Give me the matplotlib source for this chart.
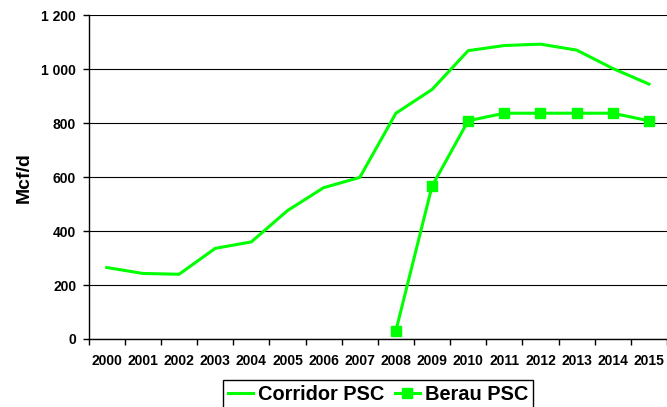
import matplotlib
matplotlib.use("Agg")
import matplotlib.pyplot as plt
import numpy as np
from matplotlib.ticker import FixedLocator, FuncFormatter

years = ["2000", "2001", "2002", "2003", "2004", "2005", "2006", "2007",
         "2008", "2009", "2010", "2011", "2012", "2013", "2014", "2015"]
corridor = [265, 243, 240, 336, 360, 476, 561, 599, 837, 925, 1069, 1088, 1093, 1071, 1003, 945]
berau_years = ["2008", "2009", "2010", "2011", "2012", "2013", "2014", "2015"]
berau = [31, 567, 809, 837, 837, 837, 837, 809]
yticks = [0, 200, 400, 600, 800, 1000, 1200]

plt.rcParams['font.family'] = ['Liberation Sans', 'DejaVu Sans']
plt.rcParams['font.weight'] = 'bold'

fig = plt.figure(figsize=(6.67, 4.07), dpi=100)
ax = fig.add_axes([88.7/667, 1-339/407, 1-88.7/667, (339-15.3)/407])

x = np.arange(len(years))
bx = [years.index(y) for y in berau_years]
green = '#00FF00'
ax.plot(x, corridor, color=green, lw=2.2, label='Corridor PSC')
ax.plot(bx, berau, color=green, lw=2.2, marker='s', markersize=7, label='Berau PSC')

ax.set_xlim(-0.5, len(years)-0.5)
ax.set_ylim(0, 1200)
ax.set_xticks(x)
ax.set_xticklabels(years, fontsize=10, fontweight='bold')
ax.tick_params(axis='x', which='major', length=0, pad=11)
ax.xaxis.set_minor_locator(FixedLocator(np.arange(-0.5, len(years), 1)))
ax.tick_params(axis='x', which='minor', length=4, width=1, color='black', direction='out')
ax.set_yticks(yticks)
ax.yaxis.set_major_formatter(FuncFormatter(lambda v, p: f"{int(v):,}".replace(",", " ")))
ax.tick_params(axis='y', length=4, width=1, pad=5, labelsize=10)
for lab in ax.get_yticklabels():
    lab.set_fontweight('bold')
ax.grid(axis='y', color='black', lw=0.8)
ax.set_axisbelow(True)
for s in ['top', 'right']:
    ax.spines[s].set_visible(False)
for s in ['left', 'bottom']:
    ax.spines[s].set_linewidth(1)
    ax.spines[s].set_color('black')
ax.set_ylabel('Mcf/d', fontsize=14, fontweight='bold')
ax.yaxis.set_label_coords(-(88.7-33)/579, 0.5)

leg = fig.legend(loc='upper center', bbox_to_anchor=(378.3/667, 1-380/407), ncol=2,
                 fancybox=False, edgecolor='black', framealpha=1,
                 prop={'size': 14.4, 'weight': 'bold'}, handlelength=1.25,
                 handletextpad=0.25, columnspacing=0.5, borderpad=0.25, borderaxespad=0)
leg.get_frame().set_linewidth(1)

fig.savefig('out.png', dpi=100)
